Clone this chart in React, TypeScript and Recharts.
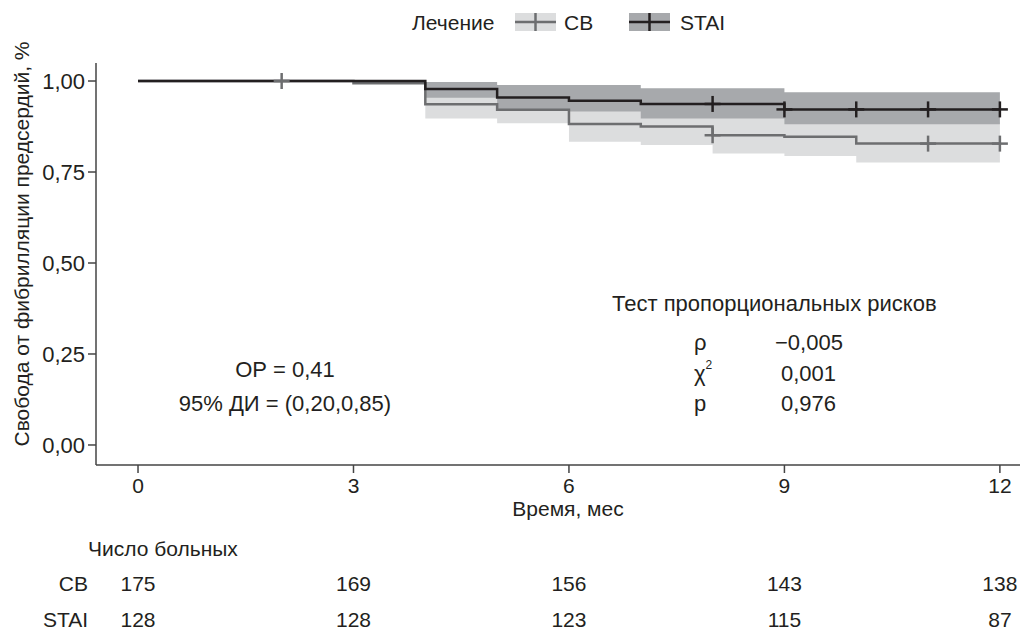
import React from 'react';
import { ComposedChart, Area, Line, Scatter, XAxis, YAxis } from 'recharts';

const FONT = '"Liberation Sans", Arial, Helvetica, sans-serif';
const TEXT = '#231f20';
const AXIS = '#444444';
const CB_LINE = '#6d6e70';
const STAI_LINE = '#231f20';
const CB_BAND = '#dcddde';
const STAI_BAND = '#a7a9ac';
const FS = 21;
const FS_NOTE = 22;

// Kaplan–Meier steps
const cbTimes = [0, 3, 4, 5, 6, 7, 8, 9, 10];
const cbSurv = [1.0, 0.994, 0.936, 0.921, 0.882, 0.875, 0.851, 0.847, 0.828];
const cbLower = [1.0, 0.994, 0.897, 0.884, 0.833, 0.824, 0.801, 0.794, 0.776];
const cbUpper = [1.0, 0.994, 0.975, 0.96, 0.935, 0.93, 0.905, 0.9, 0.888];

const staiTimes = [0, 4, 5, 6, 7, 9];
const staiSurv = [1.0, 0.978, 0.955, 0.946, 0.937, 0.922];
const staiLower = [1.0, 0.954, 0.922, 0.916, 0.897, 0.881];
const staiUpper = [1.0, 0.997, 0.989, 0.989, 0.98, 0.969];

const cbCensor = [2, 8, 11, 12];
const staiCensor = [8, 9, 10, 11, 12];
const endTime = 12;

// Risk table
const riskMonths = [0, 3, 6, 9, 12];
const riskCB = [175, 169, 156, 143, 138];
const riskSTAI = [128, 128, 123, 115, 87];

const yTicks = [0, 0.25, 0.5, 0.75, 1.0];

const stepAt = (times: number[], vals: number[], t: number) => {
  let idx = 0;
  for (let i = 0; i < times.length; i++) if (times[i] <= t) idx = i;
  return vals[idx];
};

const allTimes = Array.from(
  new Set([...cbTimes, ...staiTimes, ...cbCensor, ...staiCensor, endTime])
).sort((a, b) => a - b);

const table = allTimes.map((t) => ({
  t,
  cb: stepAt(cbTimes, cbSurv, t),
  cbLo: stepAt(cbTimes, cbLower, t),
  cbHi: stepAt(cbTimes, cbUpper, t),
  stai: stepAt(staiTimes, staiSurv, t),
  staiLo: stepAt(staiTimes, staiLower, t),
  staiHi: stepAt(staiTimes, staiUpper, t),
}));

const cbCensorData = cbCensor.map((t) => ({ t, v: stepAt(cbTimes, cbSurv, t) }));
const staiCensorData = staiCensor.map((t) => ({ t, v: stepAt(staiTimes, staiSurv, t) }));

const makeCross = (color: string) => (props: any) => {
  const { cx, cy } = props;
  if (cx == null || cy == null) return <g />;
  return (
    <g>
      <line x1={cx - 8} x2={cx + 8} y1={cy} y2={cy} stroke={color} strokeWidth={2.5} />
      <line x1={cx} x2={cx} y1={cy - 8} y2={cy + 8} stroke={color} strokeWidth={2.5} />
    </g>
  );
};

const XTick = (props: any) => {
  const { x, y, payload } = props;
  const i = riskMonths.indexOf(payload.value);
  return (
    <g fontFamily={FONT} fill={TEXT} fontSize={FS}>
      <text x={x} y={y + 10} textAnchor="middle" dominantBaseline="central" fill={TEXT}>
        {payload.value}
      </text>
      {i >= 0 && (
        <text x={x} y={y + 108} textAnchor="middle" dominantBaseline="central" fill={TEXT}>
          {riskCB[i]}
        </text>
      )}
      {i >= 0 && (
        <text x={x} y={y + 144} textAnchor="middle" dominantBaseline="central" fill={TEXT}>
          {riskSTAI[i]}
        </text>
      )}
    </g>
  );
};

const fmt = (v: number) => v.toFixed(2).replace('.', ',');

export default function App() {
  return (
    <div style={{ position: 'absolute', left: 0, top: 0, width: 1028, height: 629, background: '#fff' }}>
      <ComposedChart
        width={1028}
        height={629}
        data={table}
        margin={{ top: 63, right: 8, bottom: 134, left: 36 }}
      >
        <XAxis
          dataKey="t"
          type="number"
          domain={[-0.585, 12.28]}
          allowDataOverflow
          ticks={riskMonths}
          tick={<XTick />}
          tickSize={8}
          tickMargin={2}
          height={30}
          stroke={AXIS}
          strokeWidth={1.5}
          interval={0}
        />
        <YAxis
          type="number"
          domain={[-0.055, 1.0495]}
          allowDataOverflow
          ticks={yTicks}
          tickFormatter={fmt}
          tickSize={8}
          tickMargin={3}
          width={60}
          stroke={AXIS}
          strokeWidth={1.5}
          tick={{ fill: TEXT, fontSize: 22, fontFamily: FONT }}
          interval={0}
        />
        <Area
          dataKey={(d: any) => [d.cbLo, d.cbHi]}
          type="stepAfter"
          fill={CB_BAND}
          fillOpacity={1}
          stroke="none"
          isAnimationActive={false}
        />
        <Area
          dataKey={(d: any) => [d.staiLo, d.staiHi]}
          type="stepAfter"
          fill={STAI_BAND}
          fillOpacity={1}
          stroke="none"
          isAnimationActive={false}
        />
        <Line
          dataKey="cb"
          type="stepAfter"
          stroke={CB_LINE}
          strokeWidth={2.5}
          dot={false}
          isAnimationActive={false}
        />
        <Line
          dataKey="stai"
          type="stepAfter"
          stroke={STAI_LINE}
          strokeWidth={2.5}
          dot={false}
          isAnimationActive={false}
        />
        <Scatter data={cbCensorData} dataKey="v" shape={makeCross(CB_LINE)} isAnimationActive={false} />
        <Scatter data={staiCensorData} dataKey="v" shape={makeCross(STAI_LINE)} isAnimationActive={false} />
      </ComposedChart>
      <svg
        width={1028}
        height={629}
        style={{ position: 'absolute', left: 0, top: 0, pointerEvents: 'none' }}
        fontFamily={FONT}
        fill={TEXT}
      >
        {/* legend */}
        <text x={412} y={22} fontSize={FS} dominantBaseline="central">Лечение</text>
        <rect x={515} y={13} width={41} height={18} fill={CB_BAND} />
        <line x1={515} x2={556} y1={22} y2={22} stroke={CB_LINE} strokeWidth={2.5} />
        <line x1={535.5} x2={535.5} y1={13} y2={31} stroke={CB_LINE} strokeWidth={2.5} />
        <text x={564} y={22} fontSize={FS} dominantBaseline="central">СВ</text>
        <rect x={629} y={13} width={41} height={18} fill={STAI_BAND} />
        <line x1={629} x2={670} y1={22} y2={22} stroke={STAI_LINE} strokeWidth={2.5} />
        <line x1={649.5} x2={649.5} y1={13} y2={31} stroke={STAI_LINE} strokeWidth={2.5} />
        <text x={680} y={22} fontSize={FS} dominantBaseline="central">STAI</text>

        {/* y label */}
        <text
          x={21}
          y={244}
          fontSize={FS}
          textAnchor="middle"
          dominantBaseline="central"
          transform="rotate(-90 21 244)"
        >
          Свобода от фибрилляции предсердий, %
        </text>

        {/* x label */}
        <text x={568} y={508} fontSize={FS} textAnchor="middle" dominantBaseline="central">Время, мес</text>

        {/* annotations */}
        <text x={285} y={369} fontSize={FS_NOTE} textAnchor="middle" dominantBaseline="central">ОР = 0,41</text>
        <text x={285} y={403} fontSize={FS_NOTE} textAnchor="middle" dominantBaseline="central">95% ДИ = (0,20,0,85)</text>

        <text x={612} y={303} fontSize={FS_NOTE} dominantBaseline="central">Тест пропорциональных рисков</text>
        <text x={694} y={342} fontSize={FS_NOTE} dominantBaseline="central">ρ</text>
        <text x={775} y={342} fontSize={FS_NOTE} dominantBaseline="central">−0,005</text>
        <text x={694} y={373} fontSize={FS_NOTE} dominantBaseline="central">
          χ<tspan fontSize={12} dy={-8}>2</tspan>
        </text>
        <text x={781} y={373} fontSize={FS_NOTE} dominantBaseline="central">0,001</text>
        <text x={694} y={403} fontSize={FS_NOTE} dominantBaseline="central">p</text>
        <text x={781} y={403} fontSize={FS_NOTE} dominantBaseline="central">0,976</text>

        {/* risk table labels */}
        <text x={88} y={548} fontSize={FS} dominantBaseline="central">Число больных</text>
        <text x={88} y={583} fontSize={FS} textAnchor="end" dominantBaseline="central">СВ</text>
        <text x={88} y={619} fontSize={FS} textAnchor="end" dominantBaseline="central">STAI</text>
      </svg>
    </div>
  );
}
